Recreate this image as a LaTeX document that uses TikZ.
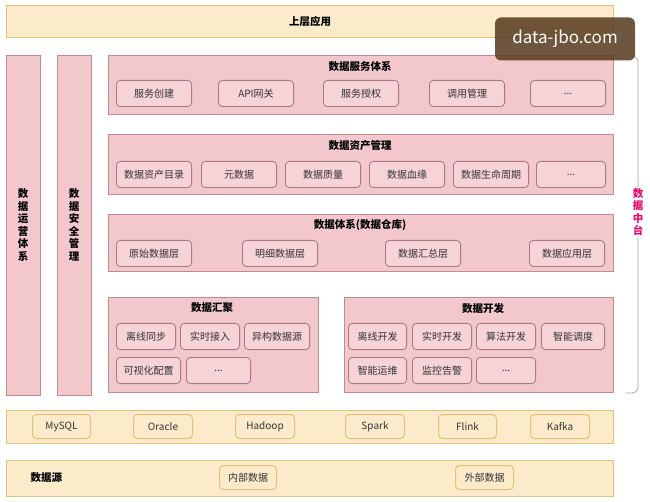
\documentclass[tikz,border=0pt]{standalone}
\usepackage{fontspec}
\setmainfont{Noto Sans CJK SC}
\definecolor{pk}{HTML}{F3C8CC}
\definecolor{pkb}{HTML}{C48A90}
\definecolor{pki}{HTML}{F6D3D6}
\definecolor{pkib}{HTML}{A87A7E}
\definecolor{yl}{HTML}{FCEBCB}
\definecolor{ylb}{HTML}{E0C27A}
\definecolor{tx}{HTML}{333333}
\tikzset{
 panel/.style={draw=pkb,fill=pk,line width=1pt},
 ibox/.style={draw=pkib,fill=pki,rounded corners=4pt,line width=0.8pt,font=\fontsize{10}{11}\selectfont,text=tx},
 ybar/.style={draw=ylb,fill=yl,line width=1pt},
 ybox/.style={draw=ylb,fill=yl,rounded corners=4pt,line width=1pt,font=\fontsize{10}{11}\selectfont,text=tx},
 ttl/.style={font=\fontsize{10.5}{12.5}\selectfont\bfseries,text=black},
}
\newcommand{\bx}[6]{\node[ibox,minimum width=#4pt-0.8pt,minimum height=#5pt-0.8pt,anchor=north west,inner sep=0pt] (#1) at (#2,#3) {#6};}
\newcommand{\yb}[6]{\node[ybox,minimum width=#4pt-1pt,minimum height=#5pt-1pt,anchor=north west,inner sep=0pt] (#1) at (#2,#3) {#6};}
\begin{document}
\begin{tikzpicture}[x=1pt,y=-1pt]
\useasboundingbox (0,0) rectangle (650,502);
\fill[white] (0,0) rectangle (650,502);
% top
\draw[ybar] (6,6) rectangle (613,38);
\node[ttl] (top) at (310,22) {上层应用};
% left columns
\draw[panel] (6,56) rectangle (40,395);
\node[ttl,align=center] (ops) at (23,225) {数\\据\\运\\营\\体\\系};
\draw[panel] (57,56) rectangle (91,395);
\node[ttl,align=center] (sec) at (74,225) {数\\据\\安\\全\\管\\理};
% service
\draw[panel] (108,56) rectangle (613,115);
\node[ttl] (svc) at (360,66) {数据服务体系};
\bx{s1}{116}{80}{76}{27}{服务创建}
\bx{s2}{218}{80}{76}{27}{API网关}
\bx{s3}{323}{80}{76}{27}{服务授权}
\bx{s4}{429}{80}{76}{27}{调用管理}
\bx{s5}{530}{80}{76}{27}{...}
% asset
\draw[panel] (108,135) rectangle (613,195);
\node[ttl] (ast) at (360,146) {数据资产管理};
\bx{a1}{116}{161}{76}{27}{数据资产目录}
\bx{a2}{201}{161}{76}{27}{元数据}
\bx{a3}{285}{161}{76}{27}{数据质量}
\bx{a4}{369}{161}{76}{27}{数据血缘}
\bx{a5}{453}{161}{76}{27}{数据生命周期}
\bx{a6}{536}{161}{70}{27}{...}
% warehouse
\draw[panel] (108,215) rectangle (613,272);
\node[ttl] (wh) at (360,225) {数据体系(数据仓库)};
\bx{w1}{116}{240}{76}{27}{原始数据层}
\bx{w2}{242}{240}{76}{27}{明细数据层}
\bx{w3}{385}{240}{76}{27}{数据汇总层}
\bx{w4}{529}{240}{76}{27}{数据应用层}
% gather
\draw[panel] (108,298) rectangle (318,392);
\node[ttl] (gt) at (212,308) {数据汇聚};
\bx{g1}{116}{323}{60}{27}{离线同步}
\bx{g2}{180}{323}{60}{27}{实时接入}
\bx{g3}{244}{323}{66}{27}{异构数据源}
\bx{g4}{116}{357}{65}{27}{可视化配置}
\bx{g5}{186}{357}{65}{27}{...}
% dev
\draw[panel] (344,298) rectangle (613,392);
\node[ttl] (dv) at (483,308) {数据开发};
\bx{d1}{348}{323}{59}{27}{离线开发}
\bx{d2}{412}{323}{60}{27}{实时开发}
\bx{d3}{476}{323}{60}{27}{算法开发}
\bx{d4}{541}{323}{64}{27}{智能调度}
\bx{d5}{348}{357}{59}{27}{智能运维}
\bx{d6}{412}{357}{60}{27}{监控告警}
\bx{d7}{476}{357}{60}{27}{...}
% brace
\draw[gray!70,line width=0.8pt,rounded corners=6pt] (626,56) -- (638,56) -- (638,393) -- (626,393);
\node[font=\fontsize{10.5}{12.5}\selectfont\bfseries,text=magenta!70!red,align=center,fill=white,inner sep=1pt] (zt) at (638,212) {数\\据\\中\\台};
% tools
\draw[ybar] (6,410) rectangle (613,443);
\yb{t1}{32}{414}{59}{25}{MySQL}
\yb{t2}{133}{414}{60}{25}{Oracle}
\yb{t3}{235}{414}{60}{25}{Hadoop}
\yb{t4}{345}{414}{60}{25}{Spark}
\yb{t5}{438}{414}{59}{25}{Flink}
\yb{t6}{530}{414}{60}{25}{Kafka}
% source
\draw[ybar] (6,460) rectangle (613,496);
\node[ttl,anchor=west] (src) at (27,478) {数据源};
\yb{r1}{219}{465}{58}{25}{内部数据}
\yb{r2}{455}{465}{59}{25}{外部数据}
% watermark
\node[fill=black!55!brown,fill opacity=0.85,text opacity=1,rounded corners=6pt,text=white,minimum width=140pt,minimum height=43pt,font=\fontsize{17}{19}\selectfont] (wm) at (565,39) {data-jbo.com};
\end{tikzpicture}
\end{document}
